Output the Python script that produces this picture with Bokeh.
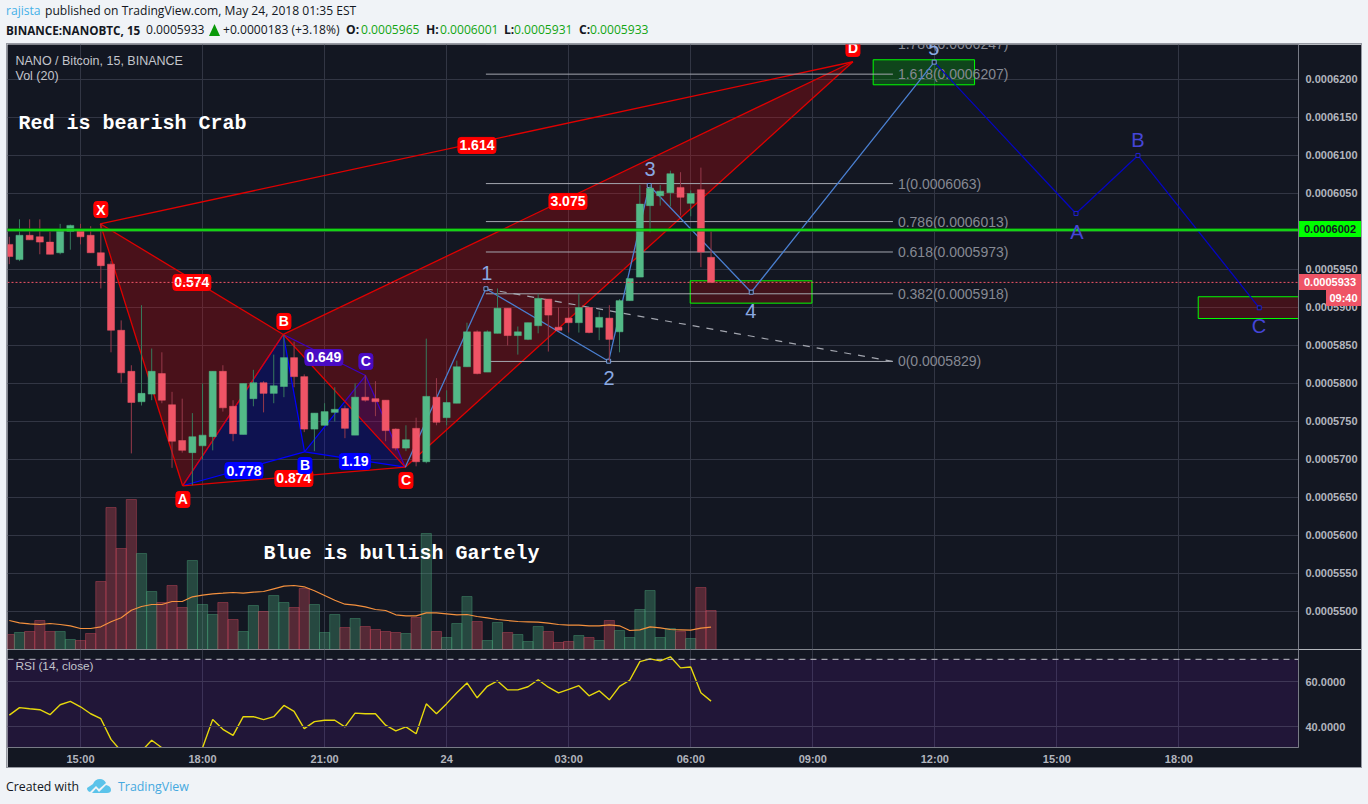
from bokeh.plotting import figure
from bokeh.models import (ColumnDataSource, Range1d, LinearAxis, FixedTicker, Grid, Span, Label, Div, Column, Rect)
from bokeh.core.properties import value
from bokeh.embed import file_html
from bokeh.resources import INLINE

# ---------- data (prices are in units of 0.0000001 BTC) ----------
bars = list(range(-7, 63))
opens = [5983,5963,5995,5993,5986,5972,6000,6001,5995,5972,5957,5870,5816,5776,5786,5813,5772,5725,5709,5718,5730,5816,5770,5733,5780,5801,5787,5796,5834,
         5809,5740,5745,5762,5767,5732,5782,5780,5778,5740,5715,5741,5697,5782,5755,5774,5822,5868,5815,5866,5899,5863,5858,5876,5911,5874,5886,5880,5900,5874,5886,5868,5909,5940,6034,6047,6051,6058,6037,6055,5966]
highs = [5993,6016,6016,6016,6000,6010,6009,6010,6007,6010,5961,5883,5824,5903,5846,5841,5789,5780,5761,5800,5816,5824,5778,5800,5818,5803,5838,5864,5855,
         5812,5761,5774,5795,5771,5800,5811,5803,5778,5741,5745,5755,5859,5807,5791,5830,5880,5870,5870,5925,5899,5875,5880,5918,5911,5900,5900,5918,5900,5895,5903,5911,5938,6061,6061,6061,6080,6078,6054,6084,6000]
lows = [5957,5961,5989,5970,5970,5970,5976,5983,5972,5925,5841,5801,5708,5771,5778,5774,5689,5709,5666,5700,5712,5763,5724,5733,5770,5762,5774,5782,5795,
        5736,5711,5745,5750,5728,5732,5776,5757,5724,5712,5711,5691,5695,5745,5745,5774,5822,5812,5815,5866,5850,5838,5857,5866,5842,5870,5867,5867,5866,5857,5829,5841,5909,5940,5999,6034,6033,6021,6020,5953,5932]
closes = [5967,5995,5989,5986,5970,6001,6008,5993,5972,5955,5870,5814,5775,5787,5816,5778,5724,5712,5730,5732,5816,5768,5734,5800,5801,5787,5797,5834,5809,
          5740,5761,5763,5766,5741,5782,5778,5776,5738,5715,5726,5697,5783,5749,5775,5822,5868,5813,5868,5899,5863,5868,5880,5912,5890,5870,5880,5900,5867,5887,5858,5909,5938,6036,6057,6053,6076,6045,6050,5973,5933]
volume = [15,17,18,29,18,18,10,9,16,68,142,101,150,96,58,47,64,42,89,45,35,47,30,18,44,38,54,47,42,61,45,17,35,22,31,23,
          20,18,17,16,32,116,18,12,26,53,28,9,27,17,15,8,23,18,7,8,14,12,9,29,19,12,40,59,12,21,18,11,62,39]
vol_ma = [29,26.7,25.7,25,26,25,23.7,21,21,22.7,27.7,31.7,39.3,43,45,45,48,48,52.7,54.3,55.7,56.3,57,56.3,57.3,58,60.7,63.3,64,62.7,58.7,54,49.3,45.3,44.3,42.7,
          40,39,34.7,33.7,33.7,36.7,36.7,35.7,34.7,35,33,31.7,30,29,28,27.7,27.3,26.3,25,24.3,24.3,23.7,23.7,24.7,23.7,19,19.7,22.7,21.7,20,19.7,19.3,21.3,22.3]
rsi = [45.2,48.5,48.0,47.6,45.4,49.8,51.3,48.9,45.8,43.6,34.4,29.2,27,29.2,34,30.7,27,26,25,30.7,43.3,38.9,36.2,44.5,44.5,43.2,44.5,49.5,46.9,39.2,42.3,42.9,42.9,40.0,46.1,45.8,
       45.8,40.7,38.2,40,36.9,50.2,45.8,50.3,55.1,59.5,52.9,58,60.4,56.4,56.4,57.8,60.9,57.6,55.1,56.6,58.3,53.8,56,52,58,60.7,69,70.2,69.3,71.1,66.2,66.6,55.1,51.4]

price_ticks = list(range(5500, 6201, 50))
rsi_ticks = [40, 60]
time_ticks = [0, 12, 24, 36, 48, 60, 72, 84, 96, 108]
time_labels = ["15:00", "18:00", "21:00", "24", "03:00", "06:00", "09:00", "12:00", "15:00", "18:00"]

crab_i = [1.94, 10.04, 19.94, 31.93, 75.95]       # X A B C D
crab_p = [6010.1, 5665.4, 5864.5, 5689.9, 6223.3]
gart_i = [10.04, 19.94, 22.03, 28.03, 31.93]      # X A B C D
gart_p = [5665.4, 5864.5, 5710.0, 5810.5, 5689.9]
wave_i = [31.93, 39.86, 51.93, 55.92, 65.95, 83.94]
wave_p = [5689.9, 5924.6, 5829.3, 6060.5, 5920.1, 6222.8]
corr_i = [83.94, 97.88, 103.97, 115.9]
corr_p = [6222.8, 6023.7, 6100, 5899.6]

fib_levels = [0, 0.382, 0.618, 0.786, 1, 1.618, 1.786]
fib_prices = [5829, 5918, 5973, 6013, 6063, 6207, 6247]
fib_start, fib_end, fib_text_i = 39.86, 79.88, 80.37
trend_i = [39.86, 79.88]
trend_p = [5924.6, 5829]

box_left = [59.95, 77.94, 109.9]
box_right = [71.92, 87.91, 121]
box_top = [5935.1, 6225.9, 5914.1]
box_bottom = [5905.7, 6193, 5885.5]
box_fill = ["#ff0000", "#00ff00", "#ff0000"]

tag_text = ["X", "A", "B", "C", "D", "0.574", "1.614", "3.075", "0.874"]
tag_i = [2.0, 10.07, 20.0, 32, 75.95, 10.95, 38.98, 47.93, 20.98]
tag_p = [6028.9, 5647.4, 5881.6, 5672.4, 6240.8, 5932.9, 6113.2, 6039.5, 5675]
btag_text = ["0.778", "B", "1.19"]
btag_i = [16.07, 22.07, 26.98]
btag_p = [5685.5, 5692.1, 5697.4]
ptag_text = ["0.649", "C"]
ptag_i = [23.93, 28.06]
ptag_p = [5834.2, 5829]
wave_text = ["1", "2", "3", "4", "5"]
wave_ti = [39.96, 51.97, 55.99, 65.92, 83.9]
wave_tp = [5946, 5806.6, 6081.6, 5896, 6242]
corr_text = ["A", "B", "C"]
corr_ti = [97.98, 103.97, 115.87]
corr_tp = [5998.7, 6119.7, 5875]

last_price, line_price = 5933, 6002

# ---------- style ----------
BG = "#131722"; PAGE = "#f0f3f7"; GRID = "#323644"; UP = "#53b987"; DOWN = "#ef5466"
AXIS_TXT = "#b2b5be"; FONT = "Liberation Sans"
XR = Range1d(-7.178, 119.76)
Y0, Y1 = 5450, 6246

def styled(frame_h, yr, border_bottom=0):
    f = figure(frame_width=1291, frame_height=frame_h, x_range=XR, y_range=yr, output_backend="svg", toolbar_location=None,
               x_axis_location=None, y_axis_location=None, background_fill_color=BG, border_fill_color=BG,
               outline_line_color=None, min_border_left=0, min_border_right=63, min_border_top=0,
               min_border_bottom=border_bottom, margin=0)
    f.grid.visible = False
    f.add_layout(Grid(dimension=0, ticker=FixedTicker(ticks=time_ticks), grid_line_color=GRID, grid_line_width=1, level="underlay"))
    return f

def style_axis(a):
    a.axis_line_color = "#787b86"; a.major_tick_line_color = None; a.minor_tick_line_color = None
    a.major_tick_out = 0; a.major_tick_in = 0
    a.major_label_standoff = 7; a.major_label_text_color = AXIS_TXT
    a.major_label_text_font = FONT; a.major_label_text_font_size = "11px"; a.major_label_text_font_style = "bold"

p = styled(605, Range1d(Y0, Y1))
p.extra_y_ranges = {"vol": Range1d(0, 605)}
ax = LinearAxis(ticker=FixedTicker(ticks=price_ticks),
                major_label_overrides={t: "0.%07d" % t for t in price_ticks})
style_axis(ax)
p.add_layout(ax, "right")
p.add_layout(Grid(dimension=1, ticker=FixedTicker(ticks=price_ticks), grid_line_color=GRID, level="underlay"))

colors = [UP if c >= o else DOWN for o, c in zip(opens, closes)]
wicks = ["#37795c" if c >= o else "#96394a" for o, c in zip(opens, closes)]
src = ColumnDataSource(dict(x=bars, o=opens, h=highs, l=lows, c=closes, v=volume, color=colors, wick=wicks))

# volume
p.vbar(x="x", top="v", bottom=0, width=1, source=src, y_range_name="vol", fill_color="color", fill_alpha=0.3,
       line_color="color", line_alpha=0.35)
p.line(bars, vol_ma, y_range_name="vol", line_color="#f5913e", line_width=1.2)

# Gartley (blue)
GB = "#0000ff"
for idx in ([0, 1, 2], [2, 3, 4]):
    p.patch([gart_i[k] for k in idx], [gart_p[k] for k in idx], fill_color=GB, fill_alpha=0.21, line_color=None)
for a_, b_ in [(0, 1), (1, 2), (2, 3), (3, 4), (0, 2), (2, 4), (1, 3)]:
    p.line([gart_i[a_], gart_i[b_]], [gart_p[a_], gart_p[b_]], line_color=GB, line_width=1.2)

# Crab (red)
CR = "#ff0000"
for idx in ([0, 1, 2], [2, 3, 4]):
    p.patch([crab_i[k] for k in idx], [crab_p[k] for k in idx], fill_color=CR, fill_alpha=0.23, line_color=None)
for a_, b_ in [(0, 1), (1, 2), (2, 3), (3, 4), (0, 2), (2, 4), (1, 3), (0, 4)]:
    p.line([crab_i[a_], crab_i[b_]], [crab_p[a_], crab_p[b_]], line_color="#e00000", line_width=1.3)

# target boxes
p.quad(left=box_left, right=box_right, top=box_top, bottom=box_bottom, fill_color=box_fill, fill_alpha=0.2,
       line_color="#00ff00", line_width=1)

# fib
for lv, pr in zip(fib_levels, fib_prices):
    p.line([fib_start, fib_end], [pr, pr], line_color="#a3a6af", line_width=1)
p.line(trend_i, trend_p, line_color="#a3a6af", line_width=1.2, line_dash="7 7")
p.text(x=[fib_text_i] * len(fib_levels), y=fib_prices,
       text=["%g(0.%07d)" % (lv, pr) for lv, pr in zip(fib_levels, fib_prices)],
       text_color="#868993", text_font=value(FONT), text_font_size="14px", text_baseline="middle", text_align="left")

# waves
p.line(wave_i, wave_p, line_color="#4a7fd0", line_width=1.3)
p.line(corr_i, corr_p, line_color="#0505c0", line_width=1.3)
p.scatter(wave_i[1:], wave_p[1:], marker="square", size=4, fill_color=BG, line_color="#7aa0e0")
p.scatter(corr_i[1:], corr_p[1:], marker="square", size=4, fill_color=BG, line_color="#2020d0")

# candles
p.segment(x0="x", x1="x", y0="l", y1="h", source=src, line_color="wick", line_width=1)
p.vbar(x="x", top="o", bottom="c", width=0.69, source=src, fill_color="color", line_color="color", line_width=0.5)

# levels
p.add_layout(Span(location=last_price, dimension="width", line_color="#ef5466", line_dash="2 2", line_width=1))
p.line([-8, 121], [line_price, line_price], line_color="#0a8a0a", line_width=3.2, line_alpha=0.9)
p.line([-8, 121], [line_price, line_price], line_color="#19f019", line_width=1.5)

# pattern tags
tag_w = {1: 14, 4: 31, 5: 38}
rect_kw = {"border_radius": 3} if "border_radius" in Rect.properties() else {}
def tags(xs, ys, txt, bg):
    p.rect(x=xs, y=ys, width=[tag_w[len(t)] for t in txt], height=16, width_units="screen", height_units="screen",
           fill_color=bg, line_color=bg, **rect_kw)
    p.text(x=xs, y=ys, text=txt, text_color="#ffffff", text_font=value(FONT), text_font_style="bold", text_font_size="14px",
           text_align="center", text_baseline="middle")
tags(tag_i, tag_p, tag_text, "#ff0000")
tags(btag_i, btag_p, btag_text, "#0000ff")
tags(ptag_i, ptag_p, ptag_text, "#4a0cc4")
p.text(x=wave_ti, y=wave_tp, text=wave_text, text_color="#8aa9e2", text_font=value(FONT), text_font_size="20px", text_align="center", text_baseline="middle")
p.text(x=corr_ti, y=corr_tp, text=corr_text, text_color="#4545d8", text_font=value(FONT), text_font_size="20px", text_align="center", text_baseline="middle")

mono = dict(text_color="#ffffff", text_font=value("Liberation Mono"), text_font_style="bold", text_font_size="20px", text_baseline="middle", text_align="left")
p.text(x=[-6.09], y=[6142], text=["Red is bearish Crab"], **mono)
p.text(x=[18.0], y=[5576], text=["Blue is bullish Gartely"], **mono)

def screen_label(f, x, ytop, txt, h, size="12.5px", color="#c3c5cc"):
    f.add_layout(Label(x=x, y=h - ytop, x_units="screen", y_units="screen", text=txt, text_color=color,
                       text_font=FONT, text_font_size=size, text_baseline="middle", text_align="left", level="overlay"))

screen_label(p, 8, 16, "NANO / Bitcoin, 15, BINANCE", 605)
screen_label(p, 8, 31, "Vol (20)", 605)

# RSI pane
r = styled(98, Range1d(30.8, 74.36), border_bottom=20)
r.quad(left=-8, right=121, bottom=30, top=70, fill_color="#9915ff", fill_alpha=0.1, line_color=None)
r.add_layout(Grid(dimension=1, ticker=FixedTicker(ticks=rsi_ticks), grid_line_color="#3f3756", level="glyph"))
r.add_layout(Span(location=70, dimension="width", line_color="#c3c3cc", line_dash="6 5", line_width=1))
r.line(bars, rsi, line_color="#e6d80c", line_width=1.4)
ay = LinearAxis(ticker=FixedTicker(ticks=rsi_ticks), major_label_overrides={t: "%.4f" % t for t in rsi_ticks})
style_axis(ay)
r.add_layout(ay, "right")
ax2 = LinearAxis(ticker=FixedTicker(ticks=time_ticks), major_label_overrides=dict(zip(time_ticks, time_labels)))
style_axis(ax2)
ax2.major_label_standoff = 5
r.add_layout(ax2, "below")
screen_label(r, 8, 16, "RSI (14, close)", 98, size="11.8px")

# page chrome
def span(left, txt, color="#131722", bold=False, size=12.1):
    return ('<span style="position:absolute;left:%gpx;white-space:nowrap;color:%s;font-size:%gpx;font-weight:%s">%s</span>'
            % (left, color, size, "700" if bold else "400", txt))
G = "#12a512"
tri = ('<svg style="position:absolute;left:209px;top:3px" width="11" height="12" viewBox="0 0 11 12">'
       '<path fill="#0a9a0a" d="M5.5 0 L11 12 L0 12Z"/></svg>')
line1 = span(6, "rajista", "#45b1e8") + span(45, "published on TradingView.com, May 24, 2018 01:35 EST")
line2 = (span(6, "BINANCE:NANOBTC, 15", bold=True, size=11.7) + span(146, "0.0005933") + tri + span(223, "+0.0000183 (+3.18%)") +
         span(346, "O:", bold=True) + span(361, "0.0005965", G) + span(426, "H:", bold=True) + span(440, "0.0006001", G) +
         span(504, "L:", bold=True) + span(514, "0.0005931", G) + span(579, "C:", bold=True) + span(590, "0.0005933", G))
header = Div(width=1368, height=43, margin=0, styles={"font-family": "Open Sans", "position": "relative"},
             text='<div style="position:absolute;top:2px;left:0;width:1360px;height:18px;line-height:18px">%s</div>'
                  '<div style="position:absolute;top:21px;left:0;width:1360px;height:18px;line-height:18px">%s</div>' % (line1, line2))
logo = ('<svg style="position:absolute;left:87px;top:10px" width="25" height="16" viewBox="0 0 25 16">'
        '<path fill="#5bc3ea" d="M0 10 L6 6 Q8 1 13 1 Q17 1 19 5 L12 11 L9 8 L3 14 Q0 13 0 10Z"/>'
        '<path fill="#5bc3ea" d="M5 15 L9 10.5 L12 14 L19 7 Q24 8 24 12 Q24 15 20 15Z"/></svg>')

# price tags in the axis strip: placed from the price scale, painted above the panel by the footer
FOOT_TOP, FRAME_TOP, FRAME_H, PX_PER_UNIT = 768, 44, 605, 605 / (Y1 - Y0)
def axis_tag(txt, price, left, width, bg, fg):
    y = FRAME_TOP + (Y1 - price) * PX_PER_UNIT
    return ('<div style="position:absolute;z-index:5;left:%gpx;top:%gpx;width:%gpx;height:16px;line-height:16px;background:%s;color:%s;'
            'font-family:\'Liberation Sans\';font-size:11px;font-weight:700;text-align:center;white-space:nowrap">%s</div>'
            % (left, y - 8 - FOOT_TOP, width, bg, fg, txt))
tags_html = (axis_tag("0.0006002", line_price, 1299, 62, "#00ff00", "#131722") +
             axis_tag("0.0005933", last_price, 1299, 62, "#ef5466", "#ffffff") +
             axis_tag("09:40", 5912, 1326, 35, "#ef5466", "#ffffff"))

footer = Div(width=1368, height=36, margin=0, styles={"font-family": "Open Sans", "position": "relative", "overflow": "visible", "z-index": "5"},
             text=tags_html + logo + '<div style="position:absolute;top:10px;left:0;height:18px;line-height:18px;width:300px">%s%s</div>'
             % (span(6, "Created with", size=12.3), span(118, "TradingView", "#45a9e0", size=12.4)))

panel = Column(children=[p, r], spacing=0, margin=(0, 0, 0, 6), width=1354, height=723,
               styles={"border": "1px solid #9598a1", "box-sizing": "content-box"})
root = Column(children=[header, panel, footer], spacing=0, width=1368, height=804, margin=0,
              styles={"background-color": PAGE})
open("out.html", "w").write(file_html(root, INLINE))
